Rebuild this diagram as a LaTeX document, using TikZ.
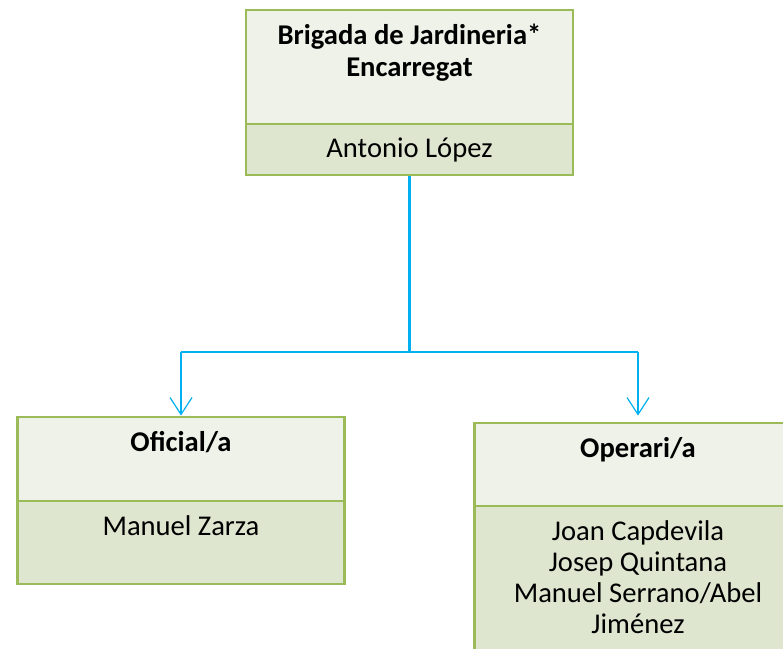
\documentclass[tikz,border=0pt]{standalone}
\usepackage{fontspec}
\setmainfont{Carlito}
\usetikzlibrary{positioning, arrows.meta}
\definecolor{verdvora}{HTML}{9BBB59}
\definecolor{verdclar}{HTML}{EFF2E9}
\definecolor{verdfosc}{HTML}{DEE6D0}
\definecolor{blaulinia}{HTML}{00B0F0}
\tikzset{
  caixa/.style={draw=verdvora, line width=2.8pt, rectangle, minimum width=327pt, inner sep=0pt},
  capcal/.style={caixa, fill=verdclar},
  nomcal/.style={caixa, fill=verdfosc},
  titol/.style={font=\fontsize{28.6}{32}\selectfont\bfseries, align=center, inner sep=0pt, anchor=north},
  persona/.style={font=\fontsize{28.6}{31}\selectfont, align=center, inner sep=0pt, anchor=north},
  tronc/.style={draw=blaulinia, line width=2.6pt},
  enllac/.style={draw=blaulinia, line width=2pt},
  fletxa/.style={draw=blaulinia, line width=1.2pt, -{Straight Barb[length=17pt, width=22pt]}}
}

\begin{document}
\begin{tikzpicture}[x=1pt, y=1pt]
  \useasboundingbox (0,0) rectangle (783,648);

  % encarregat
  \node[capcal, minimum height=114pt] (capjefe) at (409.5,581) {};
  \node[nomcal, minimum height=51pt] (nomjefe) at (409.5,498.5) {};
  \node[titol, below=15pt of capjefe.north] (titjefe) {Brigada de Jardineria*\\Encarregat};
  \node[persona, below=15pt of nomjefe.north] (perjefe) {Antonio López};

  % oficial
  \node[capcal, minimum height=84pt] (capofi) at (181,189) {};
  \node[nomcal, minimum height=83pt] (nomofi) at (181,105.5) {};
  \node[titol, below=16pt of capofi.north] (titofi) {Oficial/a};
  \node[persona, below=16pt of nomofi.north] (perofi) {Manuel Zarza};

  % operaris
  \node[capcal, minimum height=83pt] (capope) at (638,183.5) {};
  \node[nomcal, minimum height=164pt] (nomope) at (638,60) {};
  \node[titol, below=16pt of capope.north] (titope) {Operari/a};
  \node[persona, below=16pt of nomope.north] (perope)
    {Joan Capdevila\\Josep Quintana\\Manuel Serrano/Abel\\Jiménez};

  % connectors
  \coordinate (nus) at (409.5,296);
  \coordinate (ramaE) at (capofi.north |- nus);
  \coordinate (ramaD) at (capope.north |- nus);
  \coordinate (puntaD) at ([yshift=6pt]capope.north);
  \draw[tronc] (nomjefe.south) -- (nus);
  \draw[enllac] (ramaE) -- (ramaD);
  \draw[fletxa] (ramaE) -- (capofi.north);
  \draw[fletxa] (ramaD) -- (puntaD);
\end{tikzpicture}
\end{document}
